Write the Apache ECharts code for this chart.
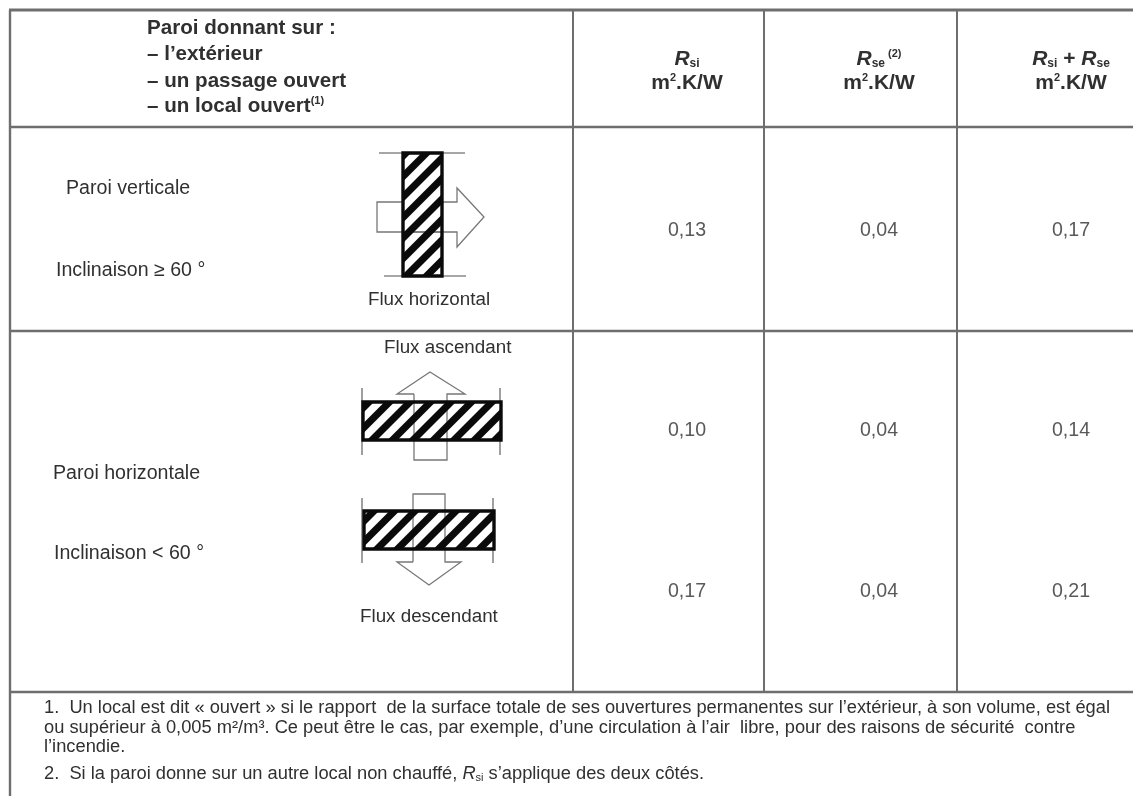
<!DOCTYPE html>
<html><head><meta charset="utf-8">
<style>html,body{margin:0;padding:0;background:#fff}#c{width:1133px;height:796px;filter:blur(0.75px)}</style>
<script src="https://cdn.jsdelivr.net/npm/echarts@6/dist/echarts.min.js"></script></head>
<body><div id="c"></div>
<script>
// ---- table content ----
const rsiValues = ['0,13', '0,10', '0,17'];
const rseValues = ['0,04', '0,04', '0,04'];
const sumValues = ['0,17', '0,14', '0,21'];
const headLines = ['Paroi donnant sur :', '– l’extérieur', '– un passage ouvert', '– un local ouvert'];
const fluxLabels = ['Flux horizontal', 'Flux ascendant', 'Flux descendant'];
const rowLabels = ['Paroi verticale', 'Inclinaison ≥ 60 °', 'Paroi horizontale', 'Inclinaison < 60 °'];
const note1 = ['1.  Un local est dit « ouvert » si le rapport  de la surface totale de ses ouvertures permanentes sur l’extérieur, à son volume, est égal',
  'ou supérieur à 0,005 m²/m³. Ce peut être le cas, par exemple, d’une circulation à l’air  libre, pour des raisons de sécurité  contre',
  'l’incendie.'];
// ---- layout ----
const colCentres = [687, 879, 1071];
const rowCentres = [231, 431, 592];
const vLines = [10, 573, 764, 957];
const hLines = [10, 127, 331, 692];
const LINE = '#6e6e6e', TEXT = '#303030', FONT = '"Liberation Sans", Arial, sans-serif';
const g = [];
function line(x1, y1, x2, y2, w, c, z) {
  g.push({type:'line', z:z||2, shape:{x1,y1,x2,y2}, style:{stroke:c||LINE, lineWidth:w||2}});
}
function poly(points, z) {
  g.push({type:'polyline', z:z||3, shape:{points}, style:{stroke:'#777', lineWidth:1.3, fill:null}});
}
function text(x, y, t, o) {
  g.push({type:'text', z:8, x, y, style:Object.assign({text:t, fill:TEXT, font:'19.6px '+FONT, textVerticalAlign:'middle', textAlign:'left'}, o||{})});
}
hLines.forEach((y,i)=>line(9, y, 1133, y, i===0?3:2.6));
line(10, 10, 10, 796, 2.4);
vLines.slice(1).forEach(x=>line(x, 10, x, hLines[3], 2));

function clipRect(pts, x0,y0,x1,y1) {
  const edges = [[p=>p[0]>=x0,(a,b)=>{const t=(x0-a[0])/(b[0]-a[0]);return [x0,a[1]+t*(b[1]-a[1])]}],
    [p=>p[0]<=x1,(a,b)=>{const t=(x1-a[0])/(b[0]-a[0]);return [x1,a[1]+t*(b[1]-a[1])]}],
    [p=>p[1]>=y0,(a,b)=>{const t=(y0-a[1])/(b[1]-a[1]);return [a[0]+t*(b[0]-a[0]),y0]}],
    [p=>p[1]<=y1,(a,b)=>{const t=(y1-a[1])/(b[1]-a[1]);return [a[0]+t*(b[0]-a[0]),y1]}]];
  for (const [ins,cut] of edges) {
    const out=[];
    pts.forEach((p,i)=>{const q=pts[(i+1)%pts.length];
      if(ins(p)){out.push(p); if(!ins(q)) out.push(cut(p,q));} else if(ins(q)) out.push(cut(p,q));});
    pts=out; if(!pts.length) break;
  }
  return pts;
}
function wall(x0, y0, x1, y1, phase) {
  g.push({type:'rect', z:2, shape:{x:x0,y:y0,width:x1-x0,height:y1-y0}, style:{fill:'#fff'}});
  const period = 20.5, half = 5;
  for (let c = x0+y0+phase-period*2; c < x1+y1+period*2; c += period) {
    const pts = clipRect([[c-half-y0,y0],[c+half-y0,y0],[c+half-y1,y1],[c-half-y1,y1]], x0,y0,x1,y1);
    if (pts.length>2) g.push({type:'polygon', z:4, shape:{points:pts}, style:{fill:'#0a0a0a'}});
  }
  g.push({type:'rect', z:5, shape:{x:x0,y:y0,width:x1-x0,height:y1-y0}, style:{fill:null, stroke:'#0a0a0a', lineWidth:3.4}});
}
// vertical wall, arrow to the right
line(379,153,465,153,1.6,'#888'); line(384,276,466,276,1.6,'#888');
wall(403,153,442,276,3);
poly([[403,202],[377,202],[377,232],[457,232],[457,247],[484,217],[457,188],[457,202],[442,202]]);
poly([[403,232],[442,232]]);
// horizontal wall, arrow up
line(362,388,362,455,1.6,'#888'); line(500,388,500,455,1.6,'#888');
wall(363,402,501,440,6);
poly([[414,394],[414,460],[447,460],[447,394],[465,394],[430,372],[397,394],[414,394]]);
// horizontal wall, arrow down
line(362,498,362,563,1.6,'#888'); line(493,498,493,563,1.6,'#888');
wall(364,511,494,549,10);
poly([[413,562],[413,494],[445,494],[445,562],[461,562],[429,585],[397,562],[413,562]]);

// texts
const headY = [28, 54, 81, 106];
const HB = 'bold 20.6px '+FONT;
headLines.forEach((t,i)=>{
  if(i===3){ g.push({type:'text',z:8,x:147,y:headY[i],style:{text:'{b|'+t+'}{s|(1)}',textVerticalAlign:'middle',fill:TEXT,rich:{b:{font:HB,fill:TEXT},s:{font:'bold 11px '+FONT,fill:TEXT,verticalAlign:'top',padding:[0,0,8,0]}}}});}
  else text(147, headY[i], t, {font:HB});
});
const rBold = {R:{font:'italic bold 21px '+FONT,fill:TEXT},s:{font:'bold 12px '+FONT,fill:TEXT,verticalAlign:'bottom',padding:[7,0,0,0]},n:{font:'bold 21px '+FONT,fill:TEXT},u:{font:'bold 11px '+FONT,fill:TEXT,verticalAlign:'top',padding:[0,0,7,0]}};
const headRich = ['{R|R}{s|si}','{R|R}{s|se}{u| (2)}','{R|R}{s|si}{n| + }{R|R}{s|se}'];
colCentres.forEach((x,i)=>{
  g.push({type:'text',z:8,x,y:59,style:{text:headRich[i],textAlign:'center',textVerticalAlign:'middle',fill:TEXT,rich:rBold}});
  g.push({type:'text',z:8,x,y:83,style:{text:'{n|m}{u|2}{n|.K/W}',textAlign:'center',textVerticalAlign:'middle',fill:TEXT,rich:rBold}});
});
const FX='18.8px '+FONT;
text(429,300,fluxLabels[0],{font:FX,textAlign:'center'});
text(384,348,fluxLabels[1],{font:FX});
text(360,617,fluxLabels[2],{font:FX});
text(66,189,rowLabels[0]); text(56,271,rowLabels[1]); text(53,474,rowLabels[2]); text(54,554,rowLabels[3]);
const noteY=[708,728,747];
const NF='18.3px '+FONT;
note1.forEach((t,i)=>text(44,noteY[i],t,{font:NF}));
g.push({type:'text',z:8,x:44,y:774,style:{text:'{n|2.  Si la paroi donne sur un autre local non chauffé, }{R|R}{s|si}{n| s’applique des deux côtés.}',textVerticalAlign:'middle',fill:TEXT,rich:{n:{font:NF,fill:TEXT},R:{font:'italic 18.3px '+FONT,fill:TEXT},s:{font:'11px '+FONT,fill:TEXT,verticalAlign:'bottom',padding:[6,0,0,0]}}}});

const chart = echarts.init(document.getElementById('c'), null, {renderer:'canvas', width:1133, height:796});
const cols = [rsiValues, rseValues, sumValues];
const cells = [];
cols.forEach((vals,c)=>vals.forEach((v,r)=>cells.push({value:[colCentres[c],rowCentres[r]],label:{formatter:v}})));
chart.setOption({
  animation:false,
  backgroundColor:'#fff',
  grid:{left:0,top:0,width:1133,height:796},
  xAxis:{type:'value',min:0,max:1133,show:false},
  yAxis:{type:'value',min:0,max:796,inverse:true,show:false},
  series:[{type:'scatter',symbolSize:0,silent:true,data:cells,z:8,
    label:{show:true,position:'inside',color:TEXT,fontFamily:'Liberation Sans',fontSize:19.6}}],
  graphic:{elements:g}
});
</script></body></html>
